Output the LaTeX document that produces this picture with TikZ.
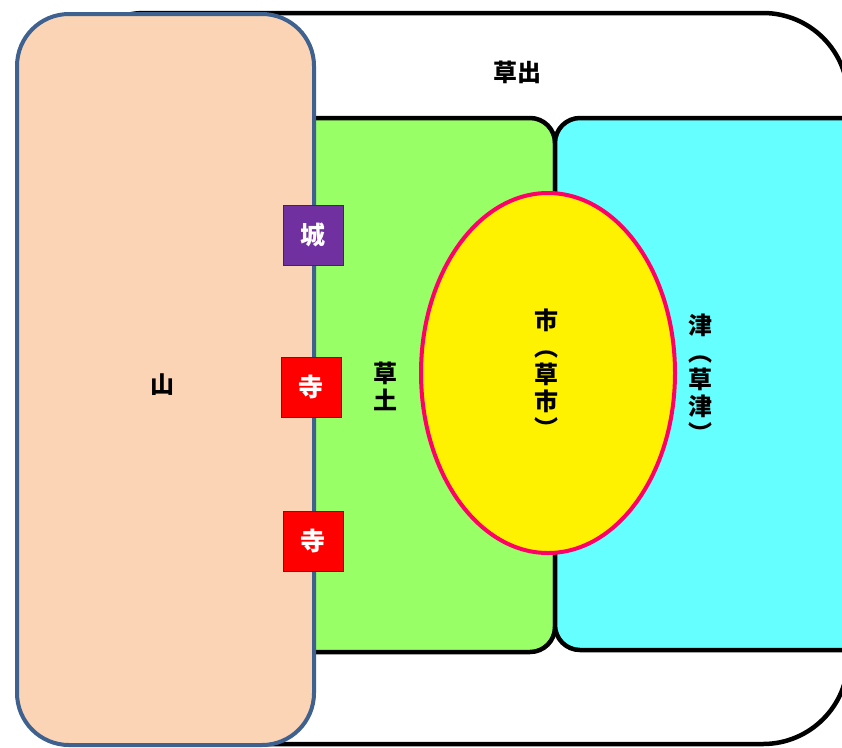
\documentclass[tikz,border=0pt]{standalone}
\usepackage{fontspec}
\usetikzlibrary{shapes.geometric}
\newfontfamily\cjk{Noto Sans CJK JP}
\definecolor{peach}{HTML}{FAD4B4}
\definecolor{mtnedge}{HTML}{3F6190}
\definecolor{grn}{HTML}{99FF66}
\definecolor{cyn}{HTML}{66FFFF}
\definecolor{pinkedge}{HTML}{FF0066}
\definecolor{castle}{HTML}{7030A0}
\begin{document}
\begin{tikzpicture}[x=1pt,y=-1pt,
  region/.style={draw=black,line width=4.5pt},
  lbl/.style={font=\cjk\bfseries\fontsize{24}{28}\selectfont,align=center,inner sep=0pt},
  vlbl/.style={lbl,font=\cjk\bfseries\fontsize{24}{27}\selectfont},
  markbox/.style={draw=black!80,line width=1pt,minimum width=60pt,minimum height=60pt,inner sep=0pt,text=white,font=\cjk\bfseries\fontsize{25}{29}\selectfont}]
\useasboundingbox (0,0) rectangle (842,747);
\clip (0,0) rectangle (842,747);
% outer area
\draw[region,fill=white,rounded corners=85pt] (60,13) rectangle (848,744);
\node[lbl] (soshutsu) at (517,72) {草出};
% green and cyan areas
\draw[region,fill=grn,rounded corners=25pt] (280,118) rectangle (555,652);
\draw[region,fill=cyn,rounded corners=25pt] (555,118) rectangle (870,650);
% ellipse market
\node[draw=pinkedge,line width=4pt,fill=yellow,ellipse,minimum width=254pt,minimum height=360pt,inner sep=0pt] (ichi) at (548,373) {};
% mountain
\draw[draw=mtnedge,line width=4pt,fill=peach,rounded corners=52pt] (17,14) rectangle (314,745);
\node[lbl] (yama) at (162,385) {山};
% labels
\node[vlbl] (kusado) at (385,386) {草\\土};
\node[vlbl] (kusaichi) at (546,373) {市\\︵\\草\\市\\︶};
\node[vlbl] (kusatsu) at (700,378) {津\\︵\\草\\津\\︶};
% markers
\node[markbox,fill=castle] (shiro) at (313,235) {城};
\node[markbox,fill=red] (tera1) at (311,387) {寺};
\node[markbox,fill=red] (tera2) at (313,541) {寺};
\end{tikzpicture}
\end{document}
